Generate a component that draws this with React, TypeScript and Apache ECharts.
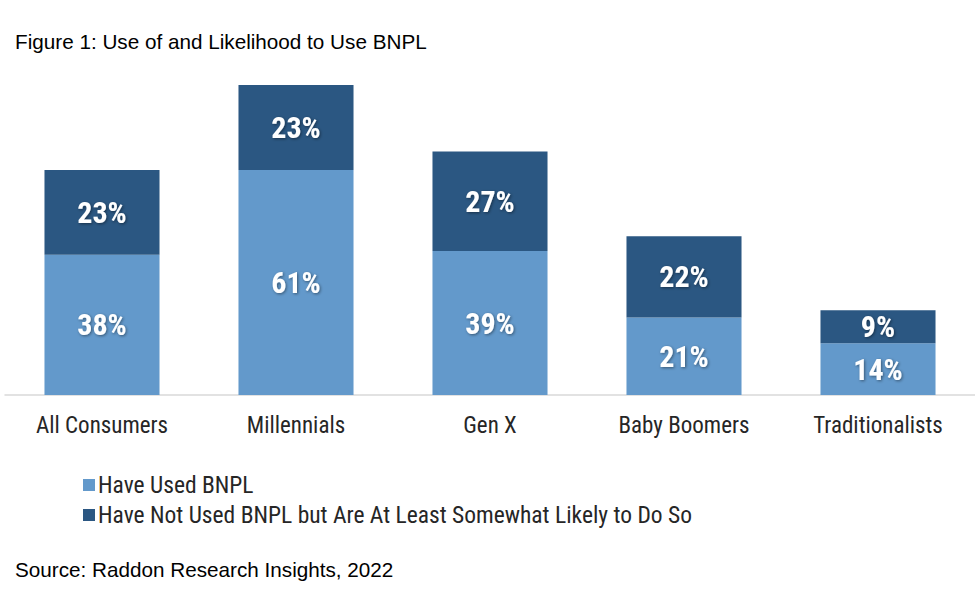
import React, { useEffect, useRef } from "react";
import * as echarts from "echarts";

const categories = ["All Consumers", "Millennials", "Gen X", "Baby Boomers", "Traditionalists"];
const haveUsed = [38, 61, 39, 21, 14];
const likelyToUse = [23, 23, 27, 22, 9];
const seriesNames = [
  "Have Used BNPL",
  "Have Not Used BNPL but Are At Least Somewhat Likely to Do So",
];
const title = "Figure 1: Use of and Likelihood to Use BNPL";
const source = "Source: Raddon Research Insights, 2022";

const NARROW = '"Liberation Sans Narrow", "Arial Narrow", "Roboto Condensed", Roboto, sans-serif';
const SANS = '"Liberation Sans", Arial, sans-serif';

export default function App() {
  const ref = useRef<HTMLDivElement>(null);
  useEffect(() => {
    if (!ref.current) return;
    const chart = echarts.init(ref.current, undefined, { renderer: "svg" });
    const label = {
      show: true,
      position: "inside",
      formatter: "{c}%",
      color: "#ffffff",
      fontFamily: NARROW,
      fontWeight: "bold",
      fontSize: 30,
      textShadowColor: "rgba(0,0,0,0.45)",
      textShadowBlur: 3,
      textShadowOffsetX: 1,
      textShadowOffsetY: 1,
    };
    chart.setOption({
      animation: false,
      backgroundColor: "#ffffff",
      graphic: [
        {
          type: "text",
          left: 15,
          top: 31,
          style: { text: title, font: `20.7px ${SANS}`, fill: "#000" },
        },
        {
          type: "text",
          left: 15,
          top: 559,
          style: { text: source, font: `20.7px ${SANS}`, fill: "#000" },
        },
      ],
      legend: {
        orient: "vertical",
        left: 78,
        top: 468,
        itemWidth: 12,
        itemHeight: 12,
        itemGap: 6,
        icon: "rect",
        textStyle: { fontFamily: NARROW, fontSize: 23.5, color: "#262626", padding: [0, 0, 0, -2] },
        data: seriesNames,
      },
      grid: { left: 5, right: 0, top: 26, height: 369, containLabel: false },
      xAxis: {
        type: "category",
        data: categories,
        axisLine: { show: true, lineStyle: { color: "#d9d9d9", width: 1.5 } },
        axisTick: { show: false },
        axisLabel: {
          fontFamily: NARROW,
          fontSize: 23,
          color: "#262626",
          margin: 19,
          interval: 0,
        },
      },
      yAxis: { type: "value", min: 0, max: 100, show: false, splitLine: { show: false } },
      series: [
        {
          name: seriesNames[0],
          type: "bar",
          stack: "total",
          data: haveUsed,
          barWidth: "59.3%",
          itemStyle: { color: "#6399CB" },
          label,
        },
        {
          name: seriesNames[1],
          type: "bar",
          stack: "total",
          data: likelyToUse,
          barWidth: "59.3%",
          itemStyle: { color: "#2B5782" },
          label,
        },
      ],
    });
    return () => chart.dispose();
  }, []);
  return (
    <div
      ref={ref}
      style={{ position: "fixed", left: 0, top: 0, width: 975, height: 594, background: "#fff" }}
    />
  );
}
